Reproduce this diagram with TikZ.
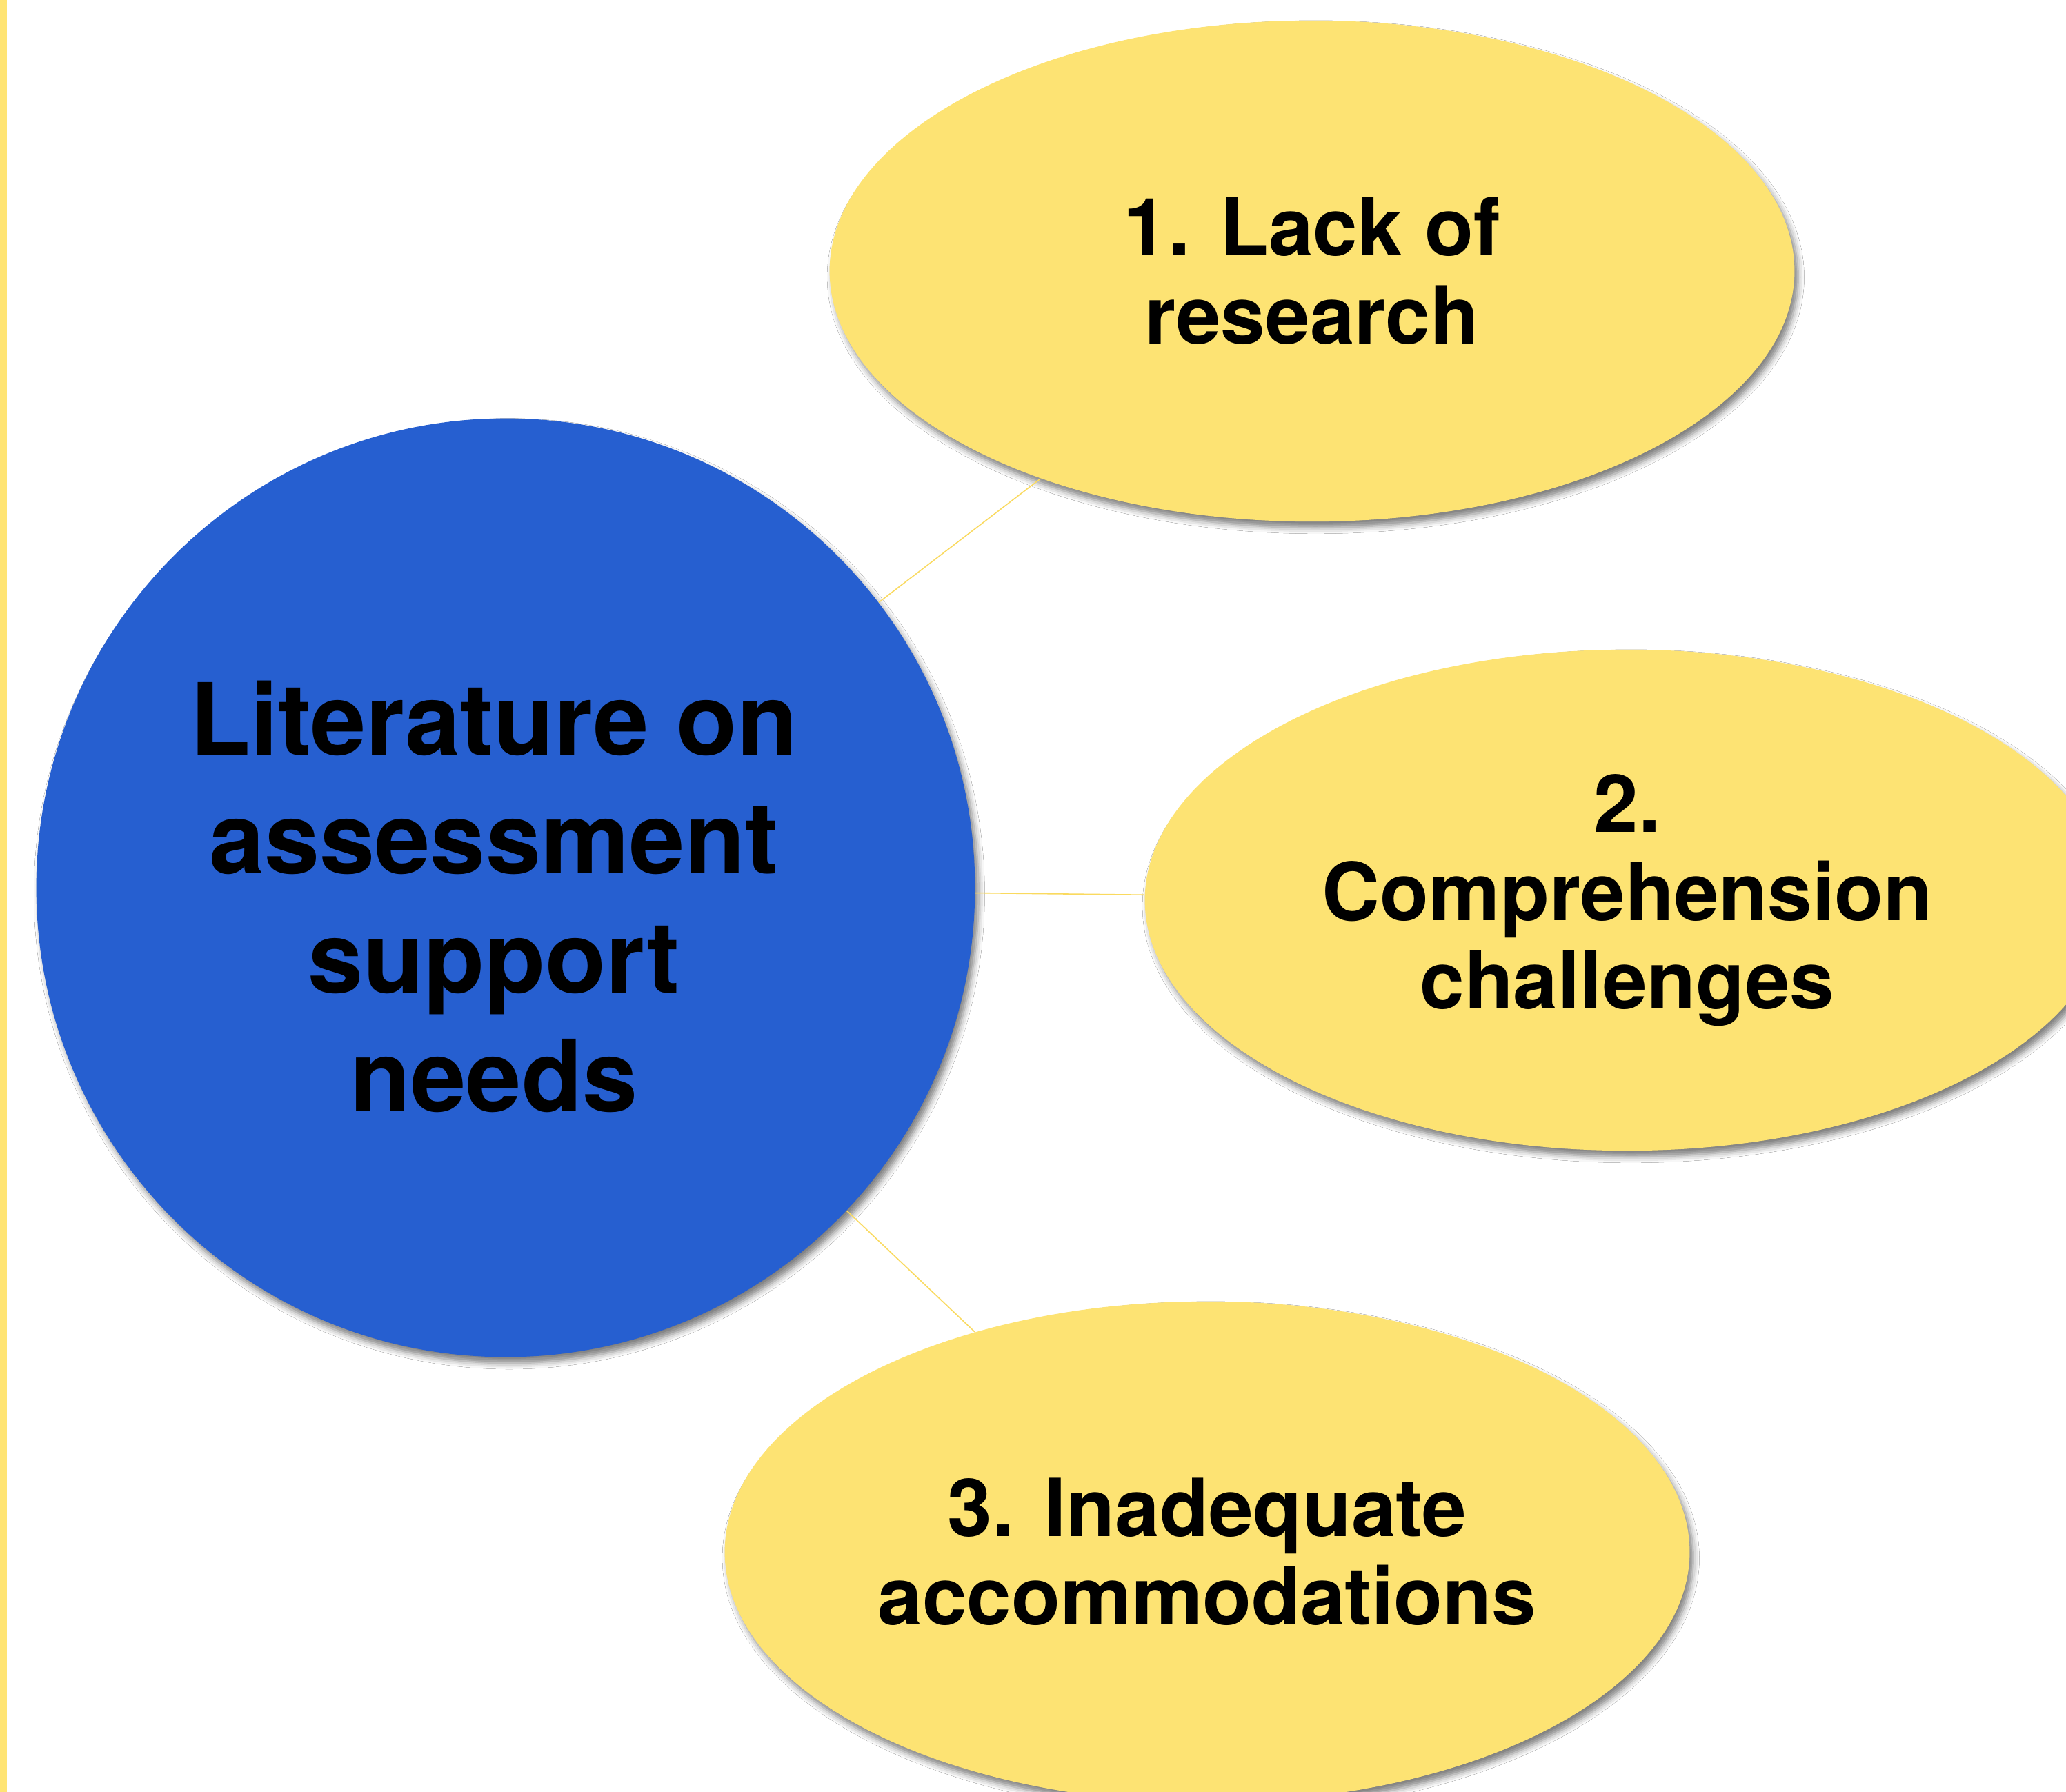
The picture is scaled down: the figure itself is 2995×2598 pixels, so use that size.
\documentclass[tikz,border=0pt]{standalone}
\usepackage{fontspec}
\setmainfont{TeX Gyre Heros}
\usetikzlibrary{shapes.geometric,shadows.blur}
\definecolor{hubblue}{RGB}{38,95,208}
\definecolor{leafyellow}{RGB}{253,227,115}
\definecolor{linkyellow}{RGB}{250,218,95}
\definecolor{baryellow}{RGB}{255,228,115}
\tikzset{
  hub/.style={circle, fill=hubblue, inner sep=0pt, minimum size=13.6cm,
    blur shadow={shadow xshift=1.5pt, shadow yshift=-2.5pt, shadow blur radius=2.5pt, shadow opacity=50}},
  hubtext/.style={align=center, font=\fontsize{41}{49}\selectfont\bfseries, text=black, inner sep=0pt},
  leaf/.style={ellipse, fill=leafyellow, inner sep=0pt, minimum width=13.98cm, minimum height=7.26cm,
    align=center, font=\fontsize{33}{36.5}\selectfont\bfseries, text=black,
    blur shadow={shadow xshift=1.5pt, shadow yshift=-2.5pt, shadow blur radius=2.5pt, shadow opacity=50}},
  link/.style={draw=linkyellow, line width=0.45pt}
}
\begin{document}
\begin{tikzpicture}[x=0.01cm, y=-0.01cm]
\useasboundingbox (0,0) rectangle (2995,2598);
\clip (0,0) rectangle (2995,2598);
\fill[white] (0,0) rectangle (2995,2598);
\fill[baryellow] (0,0) rectangle (10,2598);
\node[hub] (c) at (733,1287) {};
\node[hubtext] (ct) at (716,1300) {Literature on\\assessment\\support\\needs};
\node[leaf] (e1) at (1902,393) {1. Lack of\\research};
\node[leaf] (e2) at (2359,1305) {2.\\Comprehension\\challenges};
\node[leaf] (e3) at (1750,2250) {3. Inadequate\\accommodations};
\draw[link] (c) -- (e1);
\draw[link] (c) -- (e2);
\draw[link] (c) -- (e3);
\end{tikzpicture}
\end{document}
